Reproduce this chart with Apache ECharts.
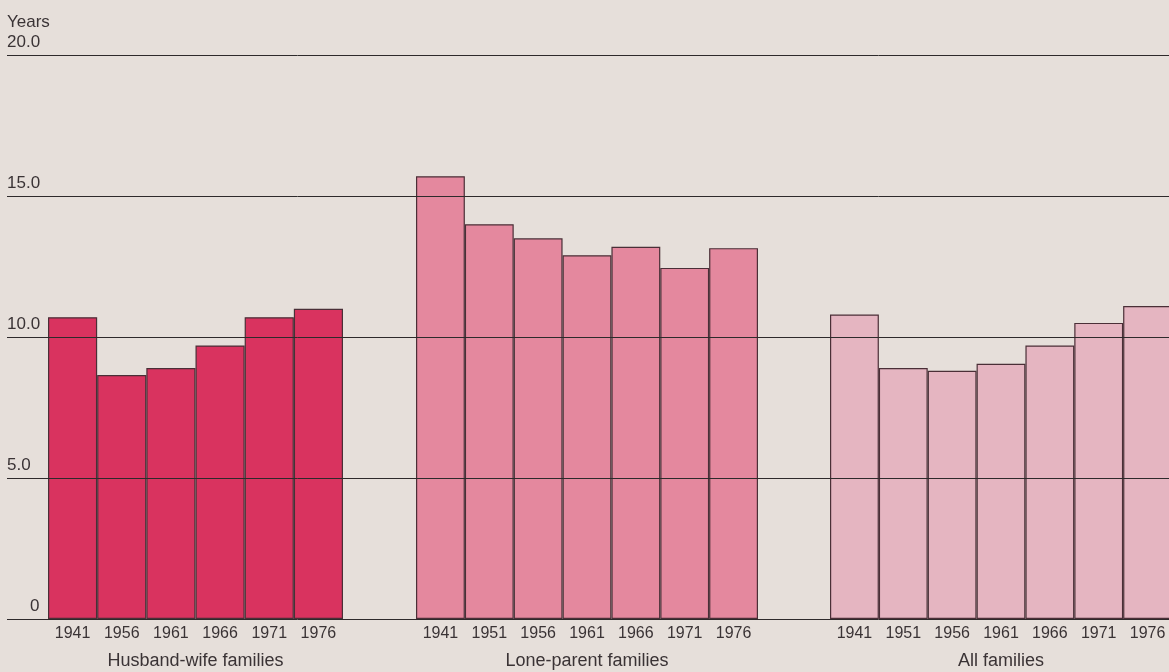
<!DOCTYPE html>
<html>
<head>
<meta charset="utf-8">
<script src="https://cdn.jsdelivr.net/npm/echarts@6/dist/echarts.min.js"></script>
<style>
html,body{margin:0;padding:0;background:#e6dfda;}
#c{width:1169px;height:672px;}
</style>
</head>
<body>
<div id="c"></div>
<script>
var yAxisTitle = 'Years';
var yMin = 0, yMax = 20, yStep = 5;

var hwTitle = 'Husband-wife families';
var hwYears = ['1941','1956','1961','1966','1971','1976'];
var hwValues = [10.7, 8.65, 8.9, 9.7, 10.7, 11.0];

var lpTitle = 'Lone-parent families';
var lpYears = ['1941','1951','1956','1961','1966','1971','1976'];
var lpValues = [15.7, 14.0, 13.5, 12.9, 13.2, 12.45, 13.15];

var allTitle = 'All families';
var allYears = ['1941','1951','1956','1961','1966','1971','1976'];
var allValues = [10.8, 8.9, 8.8, 9.05, 9.7, 10.5, 11.1];

var FONT = 'Liberation Sans, Arial, sans-serif';
var TXT = '#3a3335';
var TOP = 55, BOTTOM = 53;

var groups = [
  {title: hwTitle, years: hwYears, values: hwValues, left: 48, width: 295, color: '#d9335f'},
  {title: lpTitle, years: lpYears, values: lpValues, left: 416, width: 342, color: '#e4889e'},
  {title: allTitle, years: allYears, values: allValues, left: 830, width: 342, color: '#e5b5c1'}
];

var grids = [{left: 7, right: 0, top: TOP, bottom: BOTTOM, outerBoundsMode: 'none', containLabel: false}];
var xAxes = [{gridIndex: 0, type: 'value', min: 0, max: 1, show: false}];
var yAxes = [{
  gridIndex: 0, type: 'value', min: yMin, max: yMax, interval: yStep, z: 5,
  name: yAxisTitle, nameLocation: 'end', nameGap: 24,
  nameTextStyle: {fontFamily: FONT, fontSize: 17, color: TXT, align: 'left', verticalAlign: 'bottom'},
  axisLine: {show: false}, axisTick: {show: false},
  splitLine: {show: true, lineStyle: {color: '#2e2a2b', width: 1}},
  axisLabel: {
    inside: true, margin: 0, verticalAlign: 'bottom', align: 'left',
    padding: [0, 0, 4, 0],
    fontFamily: FONT, fontSize: 17, color: TXT,
    formatter: function (v) { return v === 0 ? '{z|0}' : v.toFixed(1); },
    rich: {z: {fontFamily: FONT, fontSize: 17, color: TXT, padding: [0, 0, 0, 23]}}
  }
}];
var series = [];

groups.forEach(function (g, i) {
  var gi = i + 1;
  grids.push({left: g.left, width: g.width, top: TOP, bottom: BOTTOM, outerBoundsMode: 'none', containLabel: false});
  xAxes.push({
    gridIndex: gi, type: 'category', data: g.years,
    name: g.title, nameLocation: 'middle', nameGap: 33,
    nameTextStyle: {fontFamily: FONT, fontSize: 18, color: TXT},
    axisLine: {show: false}, axisTick: {show: false},
    axisLabel: {fontFamily: FONT, fontSize: 16, color: TXT, margin: 7, interval: 0}
  });
  yAxes.push({gridIndex: gi, type: 'value', min: yMin, max: yMax, interval: yStep, show: false, splitLine: {show: false}});
  series.push({
    type: 'bar', xAxisIndex: gi, yAxisIndex: gi, data: g.values,
    barCategoryGap: 0, silent: true, z: 2,
    itemStyle: {color: g.color, borderColor: '#4a2f37', borderWidth: 1.2}
  });
});

var chart = echarts.init(document.getElementById('c'));
chart.setOption({
  backgroundColor: '#e6dfda',
  animation: false,
  grid: grids, xAxis: xAxes, yAxis: yAxes, series: series
});
</script>
</body>
</html>
